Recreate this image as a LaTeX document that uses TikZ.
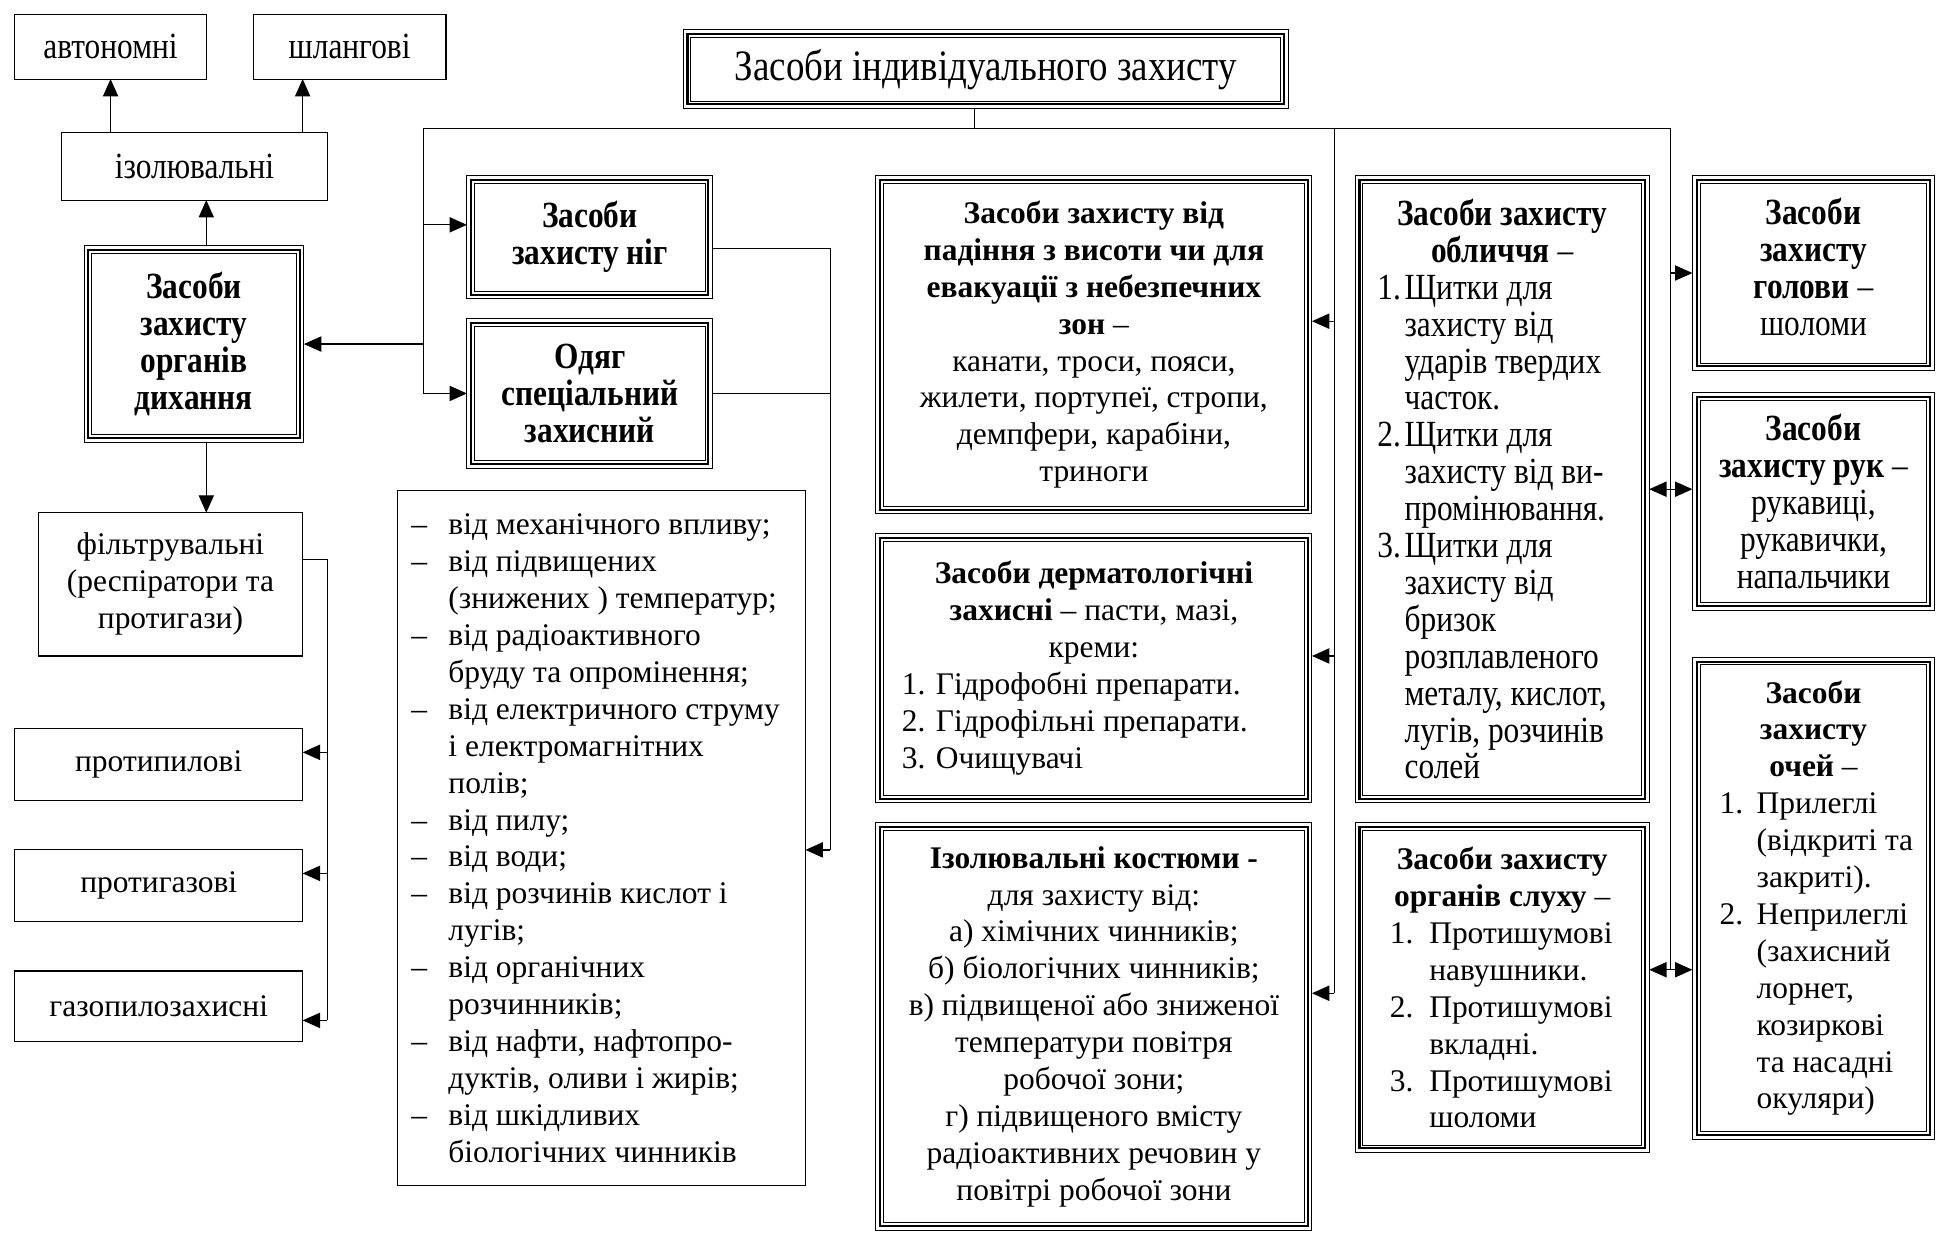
\documentclass[tikz,border=0pt]{standalone}
\usepackage{fontspec}
\setmainfont{Liberation Serif}
\newfontfamily\condfont[FakeStretch=0.85]{Liberation Serif}
\usetikzlibrary{arrows.meta,positioning}
\newlength\zbhangw
\newlength\zbhangi
\newcommand{\zbrow}[2]{\makebox[\zbhangw][l]{\makebox[\zbhangi][l]{#1}#2}}
\tikzset{
  zb/base/.style={draw, line width=0.5pt, inner sep=0pt, outer sep=0pt,
    align=center, font=\fontsize{14.5}{17}\selectfont},
  zb/size/.style 2 args={minimum width={#1*0.02cm}, minimum height={#2*0.02cm}},
  zb/plain/.style={zb/base},
  zb/triple/.style={zb/base, line width=0.45pt, path picture={
      \draw[line width=0.95pt]
        ([shift={(2pt,2pt)}]path picture bounding box.south west) rectangle
        ([shift={(-2pt,-2pt)}]path picture bounding box.north east);
      \draw[line width=0.45pt]
        ([shift={(3.5pt,3.5pt)}]path picture bounding box.south west) rectangle
        ([shift={(-3.5pt,-3.5pt)}]path picture bounding box.north east);}},
  % narrow boxes copy the squeezed face of the source
  zb/narrow/.style={font=\condfont\fontsize{17}{17}\selectfont},
  zb/narrowbold/.style={font=\condfont\bfseries\fontsize{17}{17}\selectfont},
  zb/hang/.style 2 args={execute at begin node={%
      \setlength\zbhangw{#1}\setlength\zbhangi{#2}}},
  zb/line/.style={line width=0.6pt, >={Triangle[length=8pt,width=7pt]}},
  zb/arrow/.style={zb/line, ->},
  zb/both/.style={zb/line, <->},
}

\begin{document}
\begin{tikzpicture}[x=0.02cm, y=-0.02cm]
\useasboundingbox (0,0) rectangle (1568,998);

\node[zb/triple, zb/size={490}{64}, font=\condfont\fontsize{20}{24}\selectfont]
  (title) at (798,56) {Засоби індивідуального захисту};

\node[zb/plain, zb/narrow, zb/size={155}{52}] (autonom) at (89.5,38) {автономні};
\node[zb/plain, zb/narrow, zb/size={156}{52}] (shlang) at (283,38) {шлангові};
\node[zb/plain, zb/narrow, zb/size={215}{55}] (izol) at (157.5,134.5) {ізолювальні};
\node[zb/triple, zb/narrowbold, zb/size={178}{159}] (resp) at (157,278.5)
  {Засоби\\захисту\\органів\\дихання};
\node[zb/plain, zb/size={214}{116}] (filtr) at (138,473)
  {фільтрувальні\\(респіратори та\\протигази)};
\node[zb/plain, zb/size={233}{58}] (protypyl) at (128.5,619) {протипилові};
\node[zb/plain, zb/size={233}{58}] (protygaz) at (128.5,717) {протигазові};
\node[zb/plain, zb/size={233}{57}] (gazopyl) at (128.5,814.5) {газопилозахисні};

\node[zb/triple, zb/narrowbold, zb/size={199}{100}] (nih) at (477.5,192)
  {Засоби\\захисту ніг};
\node[zb/triple, zb/narrowbold, zb/size={199}{121}] (odyah) at (477.5,318.5)
  {Одяг\\спеціальний\\захисний};
\node[zb/plain, zb/hang={6.16cm}{0.6cm}, zb/size={330}{563}] (spysok) at (487,678.5)
  {\zbrow{–}{від механічного впливу;}\\
   \zbrow{–}{від підвищених}\\
   \zbrow{}{(знижених ) температур;}\\
   \zbrow{–}{від радіоактивного}\\
   \zbrow{}{бруду та опромінення;}\\
   \zbrow{–}{від електричного струму}\\
   \zbrow{}{і електромагнітних}\\
   \zbrow{}{полів;}\\
   \zbrow{–}{від пилу;}\\
   \zbrow{–}{від води;}\\
   \zbrow{–}{від розчинів кислот і}\\
   \zbrow{}{лугів;}\\
   \zbrow{–}{від органічних}\\
   \zbrow{}{розчинників;}\\
   \zbrow{–}{від нафти, нафтопро-}\\
   \zbrow{}{дуктів, оливи і жирів;}\\
   \zbrow{–}{від шкідливих}\\
   \zbrow{}{біологічних чинників}};

\node[zb/triple, zb/size={353}{274}] (padinnya) at (885.5,279)
  {\textbf{Засоби захисту від}\\\textbf{падіння з висоти чи для}\\
   \textbf{евакуації з небезпечних}\\\textbf{зон} –\\
   канати, троси, пояси,\\жилети, портупеї, стропи,\\
   демпфери, карабіни,\\триноги};
\node[zb/triple, zb/hang={6.22cm}{0pt}, zb/size={353}{218}] (dermat) at (885.5,541)
  {\textbf{Засоби дерматологічні}\\\textbf{захисні} – пасти, мазі,\\креми:\\
   \zbrow{}{1. Гідрофобні препарати.}\\
   \zbrow{}{2. Гідрофільні препарати.}\\
   \zbrow{}{3. Очищувачі}};
\node[zb/triple, zb/size={353}{330}] (kostyum) at (885.5,831)
  {\textbf{Ізолювальні костюми -}\\для захисту від:\\а) хімічних чинників;\\
   б) біологічних чинників;\\в) підвищеної або зниженої\\температури повітря\\
   робочої зони;\\г) підвищеного вмісту\\радіоактивних речовин у\\
   повітрі робочої зони};

\node[zb/triple, zb/narrow, zb/hang={4.04cm}{0.44cm}, zb/size={238}{508}] (oblych)
  at (1216,396)
  {\textbf{Засоби захисту}\\\textbf{обличчя} –\\
   \zbrow{1.}{Щитки для}\\\zbrow{}{захисту від}\\\zbrow{}{ударів твердих}\\
   \zbrow{}{часток.}\\
   \zbrow{2.}{Щитки для}\\\zbrow{}{захисту від ви-}\\\zbrow{}{промінювання.}\\
   \zbrow{3.}{Щитки для}\\\zbrow{}{захисту від}\\\zbrow{}{бризок}\\
   \zbrow{}{розплавленого}\\\zbrow{}{металу, кислот,}\\\zbrow{}{лугів, розчинів}\\
   \zbrow{}{солей}};
\node[zb/triple, zb/hang={3.64cm}{0.64cm}, zb/size={238}{267}] (slukh) at (1216,799.5)
  {\textbf{Засоби захисту}\\\textbf{органів слуху} –\\
   \zbrow{1.}{Протишумові}\\\zbrow{}{навушники.}\\
   \zbrow{2.}{Протишумові}\\\zbrow{}{вкладні.}\\
   \zbrow{3.}{Протишумові}\\\zbrow{}{шоломи}};

\node[zb/triple, zb/narrow, zb/size={196}{158}] (holovy) at (1468,221)
  {\textbf{Засоби}\\\textbf{захисту}\\\textbf{голови} –\\шоломи\rule[-0.2cm]{0pt}{0pt}};
\node[zb/triple, zb/narrow, zb/size={196}{176}] (ruk) at (1468,406)
  {\textbf{Засоби}\\\textbf{захисту рук} –\\рукавиці,\\рукавички,\\напальчики};
\node[zb/triple, zb/hang={3.04cm}{0.6cm}, zb/size={196}{390}] (ochei) at (1468,727)
  {\textbf{Засоби}\\\textbf{захисту}\\\textbf{очей} –\\
   \zbrow{1.}{Прилеглі}\\\zbrow{}{(відкриті та}\\\zbrow{}{закриті).}\\
   \zbrow{2.}{Неприлеглі}\\\zbrow{}{(захисний}\\\zbrow{}{лорнет,}\\
   \zbrow{}{козиркові}\\\zbrow{}{та насадні}\\\zbrow{}{окуляри)}};

\coordinate (stem) at (789,104);
\coordinate (busL) at (343,104);
\coordinate (busM) at (1080,104);
\coordinate (busR) at (1352,104);
\coordinate (fx) at (265,0);
\coordinate (lx) at (672,0);
\coordinate (nihIn) at ([yshift=0.2cm]nih.west);
\coordinate (nihOut) at ([yshift=-0.18cm]nih.east);
\coordinate (shlIn) at ([xshift=-0.76cm]shlang.south);
\coordinate (respUp) at ([xshift=0.2cm]resp.north);
\coordinate (respDn) at ([xshift=0.2cm]resp.south);
\coordinate (filtrOut) at ([yshift=0.4cm]filtr.east);
\coordinate (pylIn) at ([yshift=0.2cm]protypyl.east);
\coordinate (gazIn) at ([yshift=0.2cm]protygaz.east);
\coordinate (gpIn) at ([yshift=-0.23cm]gazopyl.east);
\coordinate (spIn) at ([yshift=-0.19cm]spysok.east);
\coordinate (padIn) at ([yshift=0.38cm]padinnya.east);
\coordinate (dermIn) at ([yshift=0.2cm]dermat.east);
\coordinate (kostIn) at ([yshift=0.54cm]kostyum.east);
\coordinate (slukhOut) at ([yshift=0.29cm]slukh.east);

\draw[zb/line] (title.south -| stem) -- (stem);
\draw[zb/line] (busL) -- (busR);

\draw[zb/arrow] (busL) |- (odyah.west);
\draw[zb/arrow] (busL |- nihIn) -- (nihIn);
\draw[zb/arrow] (busL |- resp.east) -- (resp.east);
\draw[zb/arrow] (respUp) -- (respUp |- izol.south);
\draw[zb/arrow] (izol.north -| autonom.south) -- (autonom.south);
\draw[zb/arrow] (izol.north -| shlIn) -- (shlIn);
\draw[zb/arrow] (respDn) -- (respDn |- filtr.north);

\draw[zb/line] (filtrOut) -- (filtrOut -| fx) -- (gpIn -| fx);
\draw[zb/arrow] (pylIn -| fx) -- (pylIn);
\draw[zb/arrow] (gazIn -| fx) -- (gazIn);
\draw[zb/arrow] (gpIn -| fx) -- (gpIn);

\draw[zb/line] (nihOut) -- (nihOut -| lx) -- (spIn -| lx);
\draw[zb/line] (odyah.east) -- (odyah.east -| lx);
\draw[zb/arrow] (spIn -| lx) -- (spIn);

\draw[zb/line] (busM) -- (busM |- kostIn);
\draw[zb/arrow] (busM |- padIn) -- (padIn);
\draw[zb/arrow] (busM |- dermIn) -- (dermIn);
\draw[zb/arrow] (busM |- kostIn) -- (kostIn);

\draw[zb/line] (busR) -- (busR |- slukhOut);
\draw[zb/arrow] (busR |- holovy.west) -- (holovy.west);
\draw[zb/both] (oblych.east) -- (oblych.east -| ruk.west);
\draw[zb/both] (slukhOut) -- (slukhOut -| ochei.west);
\end{tikzpicture}
\end{document}
